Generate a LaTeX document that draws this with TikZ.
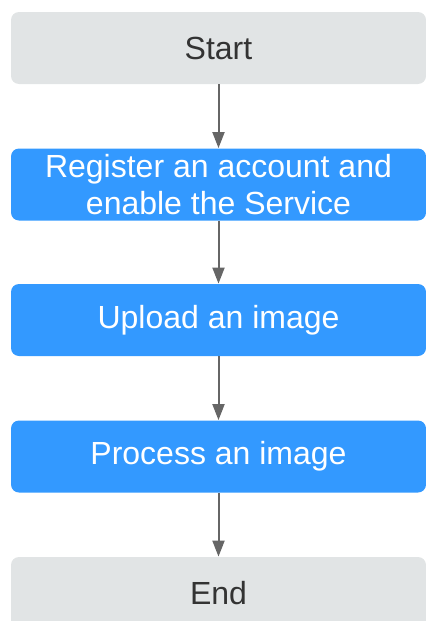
\documentclass[tikz,border=0pt]{standalone}
\usepackage{fontspec}
\setmainfont{Liberation Sans}
\usetikzlibrary{arrows.meta}
\definecolor{stepblue}{HTML}{3399FF}
\definecolor{termgray}{HTML}{E1E4E5}
\definecolor{termtext}{HTML}{333333}
\definecolor{flowline}{HTML}{666666}
\tikzset{
  box/.style={rectangle,rounded corners=4pt,minimum width=207.5pt,minimum height=36pt,
    inner sep=0pt,align=center,font=\fontsize{16}{18.5}\selectfont},
  terminal/.style={box,fill=termgray,text=termtext},
  process/.style={box,fill=stepblue,text=white},
  >={Triangle[length=8pt,width=6pt]},
}

\begin{document}
\begin{tikzpicture}[x=0.5pt,y=-0.5pt]
  \useasboundingbox (0,0) rectangle (426,621);
  \clip (0,0) rectangle (426,621);
  \node[terminal] (start)    at (218.5,48)    {Start};
  \node[process]  (register) at (218.5,184.5) {Register an account and\\enable the Service};
  \node[process]  (upload)   at (218.5,320)   {Upload an image};
  \node[process]  (proc)     at (218.5,456.5) {Process an image};
  \node[terminal] (end)      at (218.5,593)   {End};
  \path[->,draw=flowline,fill=flowline,line width=1pt]
    (start)    edge (register)
    (register) edge (upload)
    (upload)   edge (proc)
    (proc)     edge (end);
\end{tikzpicture}
\end{document}
